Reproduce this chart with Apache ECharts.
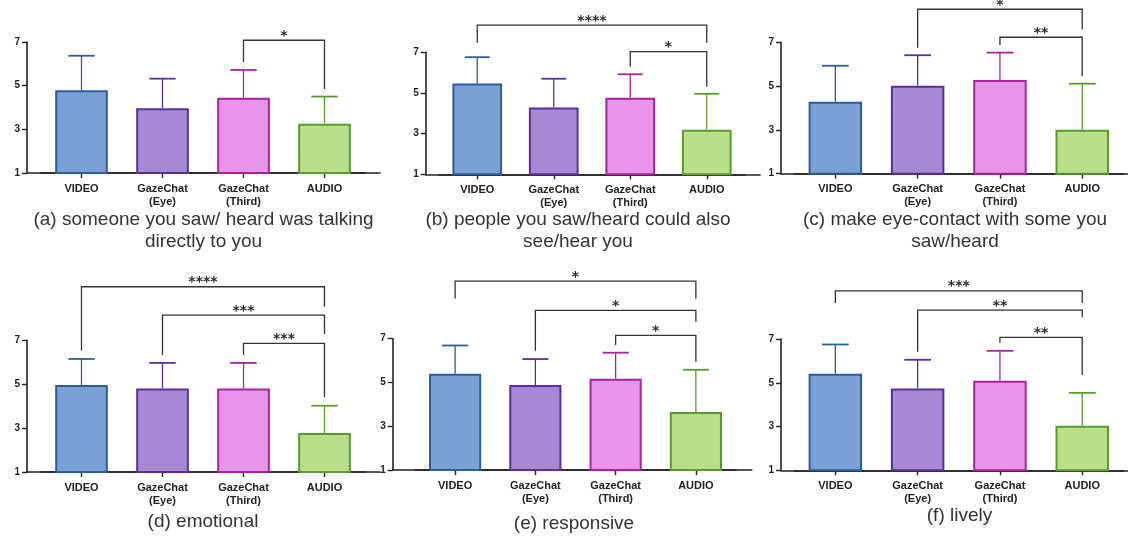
<!DOCTYPE html>
<html>
<head>
<meta charset="utf-8">
<script src="https://cdn.jsdelivr.net/npm/echarts@6/dist/echarts.min.js"></script>
<style>
html,body{margin:0;padding:0;background:#fff;}
#chart{width:1128px;height:540px;}
</style>
</head>
<body>
<div id="chart"></div>
<script>
// ---- data ----
const categories = ['VIDEO', 'GazeChat\n(Eye)', 'GazeChat\n(Third)', 'AUDIO'];
const yTicks = [1, 3, 5, 7];

const captionA = '(a) someone you saw/ heard was talking\ndirectly to you';
const meansA = [4.79, 3.96, 4.45, 3.26];
const errA = [6.37, 5.32, 5.72, 4.50];
// [fromIndex, toIndex, top, leftLegEnd, rightLegEnd, stars]
const bracketsA = [[2, 3, 7.08, 6.08, 4.85, '*']];

const captionB = '(b) people you saw/heard could also\nsee/hear you';
const meansB = [5.46, 4.28, 4.77, 3.19];
const errB = [6.76, 5.70, 5.92, 4.96];
const bracketsB = [[0, 3, 8.34, 7.47, 7.47, '****'], [2, 3, 7.03, 6.29, 5.31, '*']];

const captionC = '(c) make eye-contact with some you\nsaw/heard';
const meansC = [4.29, 5.02, 5.28, 3.01];
const errC = [5.93, 6.41, 6.53, 5.11];
const bracketsC = [[1, 3, 8.51, 6.75, 7.59, '*'], [2, 3, 7.23, 6.88, 5.46, '**']];

const captionD = '(d) emotional';
const meansD = [4.96, 4.80, 4.80, 2.78];
const errD = [6.15, 5.97, 5.97, 4.02];
const bracketsD = [[0, 3, 9.44, 6.53, 8.53, '****'], [1, 3, 8.15, 6.33, 7.29, '***'], [2, 3, 6.86, 6.33, 4.40, '***']];

const captionE = '(e) responsive';
const meansE = [5.40, 4.88, 5.17, 3.65];
const errE = [6.69, 6.07, 6.36, 5.58];
const bracketsE = [[0, 3, 9.63, 8.84, 8.84, '*'], [1, 3, 8.29, 6.45, 7.77, '*'], [2, 3, 7.15, 6.71, 5.95, '*']];

const captionF = '(f) lively';
const meansF = [5.41, 4.74, 5.09, 3.04];
const errF = [6.75, 6.05, 6.46, 4.54];
const bracketsF = [[0, 3, 9.20, 8.65, 8.65, '***'], [1, 3, 8.32, 6.42, 7.99, '**'], [2, 3, 7.07, 6.83, 5.35, '**']];

// ---- styles / layout ----
const fills = ['#7BA0D4', '#A58AD3', '#E994E8', '#BBDF88'];
const borders = ['#2E5C9E', '#58309A', '#A8239E', '#5A9A2E'];
const axisColor = '#222';

const panels = [
  {caption: captionA, means: meansA, errs: errA, brackets: bracketsA,
   axisX: 27, xEnd: 380, top: 42, bottom: 173, bandStart: 41, bandEnd: 365, capX: 203.5, capY: 209},
  {caption: captionB, means: meansB, errs: errB, brackets: bracketsB,
   axisX: 425.7, xEnd: 760, top: 52.3, bottom: 174.3, bandStart: 439, bandEnd: 745, capX: 578, capY: 209},
  {caption: captionC, means: meansC, errs: errC, brackets: bracketsC,
   axisX: 781, xEnd: 1128, top: 42.3, bottom: 173.7, bandStart: 794.2, bandEnd: 1123.4, capX: 955, capY: 209},
  {caption: captionD, means: meansD, errs: errD, brackets: bracketsD,
   axisX: 27, xEnd: 380, top: 340.3, bottom: 472, bandStart: 41, bandEnd: 365, capX: 203, capY: 510.7},
  {caption: captionE, means: meansE, errs: errE, brackets: bracketsE,
   axisX: 392.7, xEnd: 751.7, top: 338.7, bottom: 470, bandStart: 415, bandEnd: 736, capX: 574, capY: 513},
  {caption: captionF, means: meansF, errs: errF, brackets: bracketsF,
   axisX: 781, xEnd: 1128, top: 339, bottom: 470.3, bandStart: 794.2, bandEnd: 1123.4, capX: 959.5, capY: 505}
];

const grid = [], xAxis = [], yAxis = [], series = [], title = [];

panels.forEach((p, k) => {
  const gMain = 2 * k, gLine = 2 * k + 1;
  grid.push({left: p.bandStart, width: p.bandEnd - p.bandStart, top: p.top, height: p.bottom - p.top, containLabel: false});
  grid.push({left: p.axisX, width: p.xEnd - p.axisX, top: p.top, height: p.bottom - p.top, containLabel: false});

  xAxis.push({
    type: 'category', gridIndex: gMain, data: categories,
    axisLine: {show: true, lineStyle: {color: axisColor, width: 1.6}},
    axisTick: {show: true, alignWithLabel: true, length: 5, lineStyle: {color: axisColor, width: 1.4}},
    axisLabel: {color: axisColor, fontWeight: 'bold', fontSize: 11, lineHeight: 13, margin: 9,
      fontFamily: 'Liberation Sans, Arial, sans-serif'},
    splitLine: {show: false}
  });
  xAxis.push({
    type: 'value', gridIndex: gLine, min: 0, max: 1,
    axisLine: {show: true, onZero: false, lineStyle: {color: axisColor, width: 1.6}},
    axisTick: {show: false}, axisLabel: {show: false}, splitLine: {show: false}
  });
  yAxis.push({
    type: 'value', gridIndex: gMain, min: 1, max: 7,
    offset: p.bandStart - p.axisX,
    axisLine: {show: true, lineStyle: {color: axisColor, width: 1.6}},
    axisTick: {show: true, length: 5, customValues: yTicks, lineStyle: {color: axisColor, width: 1.4}},
    axisLabel: {customValues: yTicks, color: axisColor, fontWeight: 'bold', fontSize: 10, margin: 7,
      fontFamily: 'Liberation Sans, Arial, sans-serif'},
    splitLine: {show: false}
  });
  yAxis.push({type: 'value', gridIndex: gLine, min: 0, max: 1, show: false});

  title.push({
    text: p.caption, left: p.capX, top: p.capY, textAlign: 'center', padding: 0,
    textStyle: {fontSize: 19, fontWeight: 'normal', color: '#333', lineHeight: 22,
      fontFamily: 'Liberation Sans, Arial, sans-serif'}
  });

  series.push({
    type: 'bar', xAxisIndex: gMain, yAxisIndex: gMain, barWidth: '65%', z: 2,
    data: p.means.map((v, i) => ({value: v, itemStyle: {color: fills[i], borderColor: borders[i], borderWidth: 2}}))
  });

  series.push({
    type: 'custom', xAxisIndex: gMain, yAxisIndex: gMain, z: 3,
    encode: {x: 0, y: [1, 2]},
    data: p.means.map((v, i) => [i, v, p.errs[i]]),
    renderItem: (params, api) => {
      const i = api.value(0);
      const pm = api.coord([i, api.value(1)]);
      const pe = api.coord([i, api.value(2)]);
      const half = api.size([1, 0])[0] * 0.65 * 0.25;
      const col = borders[i];
      return {type: 'group', children: [
        {type: 'line', shape: {x1: pm[0], y1: pm[1], x2: pe[0], y2: pe[1]}, style: {stroke: col, lineWidth: 1.3}},
        {type: 'line', shape: {x1: pe[0] - half, y1: pe[1], x2: pe[0] + half, y2: pe[1]}, style: {stroke: col, lineWidth: 1.8}}
      ]};
    }
  });

  const br = p.brackets;
  series.push({
    type: 'custom', xAxisIndex: gMain, yAxisIndex: gMain, z: 4, clip: false,
    encode: {x: [0, 1], y: [2, 3, 4]},
    data: br.map(b => [b[0], b[1], b[2], b[3], b[4]]),
    renderItem: (params, api) => {
      const a = api.value(0), b = api.value(1);
      const tl = api.coord([a, api.value(2)]);
      const tr = api.coord([b, api.value(2)]);
      const lb = api.coord([a, api.value(3)]);
      const rb = api.coord([b, api.value(4)]);
      return {type: 'group', children: [
        {type: 'polyline', shape: {points: [lb, tl, tr, rb]}, style: {stroke: '#333', lineWidth: 1.3, fill: null}},
        {type: 'text', style: {text: br[params.dataIndex][5], x: (tl[0] + tr[0]) / 2, y: tl[1] - 4,
          align: 'center', verticalAlign: 'middle', fill: '#2a2a2a', fontSize: 14, fontWeight: 'bold',
          fontFamily: '"DejaVu Sans", Verdana, sans-serif'}}
      ]};
    }
  });
});

const chart = echarts.init(document.getElementById('chart'), null, {renderer: 'canvas'});
chart.setOption({
  animation: false,
  backgroundColor: '#fff',
  title: title,
  grid: grid,
  xAxis: xAxis,
  yAxis: yAxis,
  series: series
});
</script>
</body>
</html>
